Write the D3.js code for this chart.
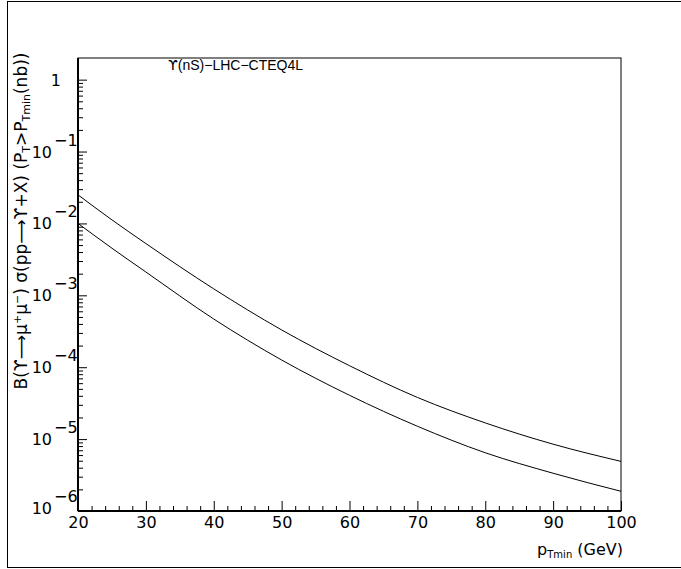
<!DOCTYPE html>
<html><head><meta charset="utf-8">
<script src="https://cdn.jsdelivr.net/npm/d3@7"></script>
<style>body{margin:0;background:#fff}svg{display:block}text{font-family:"DejaVu Sans",sans-serif;fill:#000}</style>
</head><body>
<svg id="c" width="681" height="569"></svg>
<script>
const ptMin = [20, 25, 30, 40, 50, 60, 70, 80, 90, 100];
const upperSeries = [2.5e-2, 1.12e-2, 5.25e-3, 1.23e-3, 3.3e-4, 1.05e-4, 3.8e-5, 1.68e-5, 8.5e-6, 4.9e-6];
const lowerSeries = [1.0e-2, 4.52e-3, 2.11e-3, 4.68e-4, 1.26e-4, 4.07e-5, 1.51e-5, 6.46e-6, 3.35e-6, 1.88e-6];
const xMajorTicks = [20, 30, 40, 50, 60, 70, 80, 90, 100];
const yDecadeExponents = [0, -1, -2, -3, -4, -5, -6];
const titleText = "(nS)−LHC−CTEQ4L";

const svg = d3.select("#c");
const L = 78, R = 621, T = 58, B = 511;
const x = d3.scaleLinear().domain([20, 100]).range([L, R]);
const y = d3.scaleLog().domain([1e-6, 2]).range([B, T]);

// outer pad frame (right edge falls outside the picture)
svg.append("rect").attr("x", 7.5).attr("y", 1.5).attr("width", 690).attr("height", 566)
  .attr("fill", "none").attr("stroke", "#000").attr("stroke-width", 1);

// x axis
const xMinor = d3.range(20, 101, 2).filter(v => v % 10 !== 0);
svg.append("g").attr("transform", `translate(0,${B})`)
  .call(d3.axisBottom(x).tickValues(xMinor).tickSizeInner(-5).tickSizeOuter(0).tickFormat(""))
  .call(g => g.select(".domain").remove());
const gx = svg.append("g").attr("transform", `translate(0,${B})`)
  .call(d3.axisBottom(x).tickValues(xMajorTicks).tickSizeInner(-10).tickSizeOuter(0).tickPadding(6).tickFormat(d3.format("d")))
  .call(g => g.select(".domain").remove());
gx.selectAll("text").style("font-size", "16px").style("font-family", '"DejaVu Sans",sans-serif');

// y axis
const yMajor = yDecadeExponents.map(k => Math.pow(10, k));
const yMinor = [];
for (let k = -6; k <= 0; k++) for (let m = 2; m <= 9; m++) { const v = m * Math.pow(10, k); if (v < 2) yMinor.push(v); }
svg.append("g").attr("transform", `translate(${L},0)`)
  .call(d3.axisLeft(y).tickValues(yMinor).tickSizeInner(-5).tickSizeOuter(0).tickFormat(""))
  .call(g => g.select(".domain").remove());
svg.append("g").attr("transform", `translate(${L},0)`)
  .call(d3.axisLeft(y).tickValues(yMajor).tickSizeInner(-9).tickSizeOuter(0).tickFormat(""))
  .call(g => g.select(".domain").remove());

const yl = svg.append("g").style("font-size", "16px");
yDecadeExponents.forEach(k => {
  const py = y(Math.pow(10, k));
  const off = k === -6 ? -3 : 0;
  if (k === 0) {
    yl.append("text").attr("x", 61).attr("y", py + 6).attr("text-anchor", "end").text("1");
  } else {
    yl.append("text").attr("x", 52).attr("y", py + 6 + off).attr("text-anchor", "end").text("10");
    yl.append("text").attr("x", 54).attr("y", py - 6 + off).text("−" + (-k));
  }
});

// frame
svg.append("rect").attr("x", L).attr("y", T).attr("width", R - L).attr("height", B - T)
  .attr("fill", "none").attr("stroke", "#000").attr("stroke-width", 1);
svg.append("line").attr("x1", L).attr("x2", L).attr("y1", T).attr("y2", B).attr("stroke", "#000").attr("stroke-width", 2);
svg.append("line").attr("x1", L).attr("x2", R).attr("y1", B).attr("y2", B).attr("stroke", "#000").attr("stroke-width", 2);

// curves
const line = d3.line().x(d => x(d[0])).y(d => y(d[1])).curve(d3.curveMonotoneX);
[upperSeries, lowerSeries].forEach(s => {
  svg.append("path").datum(ptMin.map((p, i) => [p, s[i]])).attr("d", line)
    .attr("fill", "none").attr("stroke", "#000").attr("stroke-width", 1);
});

// title
const tt = svg.append("text").attr("x", 168).attr("y", 70).style("font-size", "14px");
tt.append("tspan").style("font-family", '"DejaVu Sans",sans-serif').text("ϒ");
tt.append("tspan").style("font-family", '"Liberation Sans",sans-serif').text(titleText);

// x title
const xt = svg.append("text").attr("x", R + 2).attr("y", 555).attr("text-anchor", "end").style("font-size", "16px");
xt.append("tspan").text("p");
xt.append("tspan").attr("dy", 3).style("font-size", "10px").text("Tmin");
xt.append("tspan").attr("dy", -3).text(" (GeV)");

// y title
const yt = svg.append("text").attr("transform", "translate(27,221) rotate(-90)").attr("text-anchor", "middle").style("font-size", "17px");
yt.append("tspan").text("B(ϒ⟶μ");
yt.append("tspan").attr("dy", -6).style("font-size", "11px").text("+");
yt.append("tspan").attr("dy", 6).text("μ");
yt.append("tspan").attr("dy", -6).style("font-size", "11px").text("−");
yt.append("tspan").attr("dy", 6).text(") σ(pp⟶ϒ+X) (P");
yt.append("tspan").attr("dy", 3).style("font-size", "11px").text("T");
yt.append("tspan").attr("dy", -3).text(">P");
yt.append("tspan").attr("dy", 3).style("font-size", "11px").text("Tmin");
yt.append("tspan").attr("dy", -3).text("(nb))");
</script>
</body></html>
